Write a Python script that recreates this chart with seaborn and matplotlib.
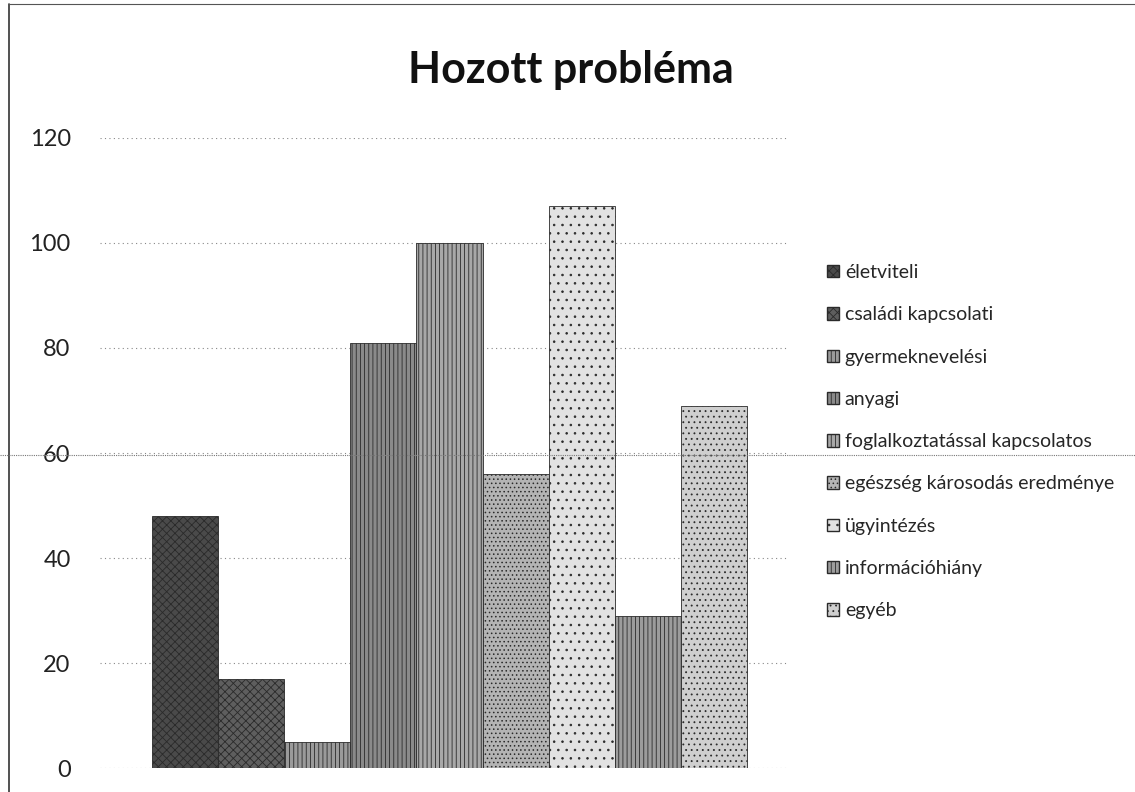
import matplotlib
matplotlib.use("Agg")
import matplotlib.pyplot as plt
import seaborn as sns
from matplotlib.lines import Line2D

# data
categories = ["életviteli", "családi kapcsolati", "gyermeknevelési", "anyagi",
              "foglalkoztatással kapcsolatos", "egészség károsodás eredménye",
              "ügyintézés", "információhiány", "egyéb"]
values = [48, 17, 5, 81, 100, 56, 107, 29, 69]
y_ticks = [0, 20, 40, 60, 80, 100, 120]

# greyscale look of the photocopy
colors = ["#4a4a4a", "#5e5e5e", "#9a9a9a", "#8a8a8a", "#a8a8a8",
          "#b4b4b4", "#e2e2e2", "#9c9c9c", "#cfcfcf"]
hatches = ["xxxx", "xxxx", "||||", "||||", "||||", "....", "..", "||||", "..."]

sns.set_style("white")
plt.rcParams["font.family"] = ["Lato", "DejaVu Sans"]
plt.rcParams["hatch.linewidth"] = 0.6

fig = plt.figure(figsize=(11.35, 7.92), dpi=100)
ax = fig.add_axes([0.088, 0.030, 0.605, 0.796])

sns.barplot(x=categories, y=values, hue=categories, palette=colors,
            width=1.0, saturation=1, legend=True, ax=ax)

for bar, h in zip(ax.patches, hatches):
    bar.set_hatch(h)
    bar.set_edgecolor("#2a2a2a")
    bar.set_linewidth(0.6)

ax.set_ylim(0, 120)
ax.set_xlim(-1.29, 9.1)
ax.set_yticks(y_ticks)
ax.set_yticklabels([str(t) for t in y_ticks], fontsize=17, color="#222222")
ax.tick_params(axis="y", length=0, pad=21)
ax.set_xticks([])
ax.set_xlabel("")
ax.set_ylabel("")
ax.yaxis.grid(True, linestyle=(0, (1, 3)), color="#888888", linewidth=0.8)
ax.set_axisbelow(True)
for s in ax.spines.values():
    s.set_visible(False)

fig.text(0.503, 0.912, "Hozott probléma", fontsize=31, fontweight="bold",
         ha="center", va="center", color="#111111")

# legend to the right, no frame
handles, labels = ax.get_legend_handles_labels()
for hd, h in zip(handles, hatches):
    hd.set_hatch(h)
    hd.set_edgecolor("#2a2a2a")
ax.legend(handles, labels, loc="upper left", bbox_to_anchor=(1.048, 0.812),
          frameon=False, fontsize=14, handlelength=0.6, handleheight=0.6,
          handletextpad=0.3, labelspacing=1.3, borderaxespad=0)

# page frame and the scan line across the sheet
fig.add_artist(Line2D([0.008, 0.008], [0.0, 0.995], color="#333333", lw=1.2))
fig.add_artist(Line2D([0.008, 1.0], [0.995, 0.995], color="#555555", lw=0.8))
fig.add_artist(Line2D([0.0, 1.0], [0.425, 0.425], color="#777777", lw=0.8,
                      linestyle=(0, (1, 1))))

fig.savefig("out.png", dpi=100)
